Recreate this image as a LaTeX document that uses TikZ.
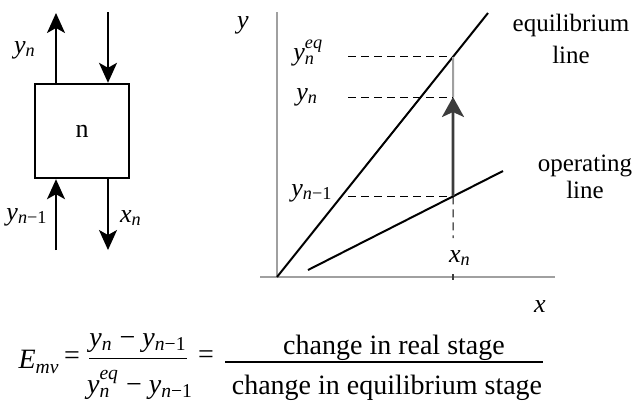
\documentclass[tikz,border=0pt]{standalone}
\usepackage{amsmath}
\usepackage{fontspec}
\setmainfont{Liberation Serif}
\usepackage{xcolor}
\definecolor{axgray}{RGB}{160,160,160}
\definecolor{arrgray}{RGB}{60,60,60}
\usetikzlibrary{arrows.meta, positioning, calc}
\newcommand{\vsub}[2]{\textit{#1}$_{\textit{#2}}$}
\newcommand{\yprev}{\textit{y}$_{\textit{n}\text{−1}}$}
\newcommand{\yeqn}{\textit{y}$_{\textit{n}}^{\textit{eq}}$}

\begin{document}
\begin{tikzpicture}[x=0.5pt, y=-0.5pt,
  flow/.style={draw, line width=0.9pt, -{Stealth[length=10pt, width=9pt, inset=2.5pt]}},
  var/.style={font=\fontsize{13}{15}\selectfont, inner sep=1pt},
  lbl/.style={font=\fontsize{12.5}{15}\selectfont, align=center},
  eqn/.style={font=\fontsize{14}{16}\selectfont, inner sep=0pt},
  guide/.style={dash pattern=on 4pt off 2.5pt, line width=0.5pt},
  axis/.style={axgray, line width=1pt}]
  \useasboundingbox (0,0) rectangle (637,404);

  % stage with its streams
  \node[draw, line width=1.2pt, minimum width=47pt, minimum height=47pt,
        font=\fontsize{13}{15}\selectfont] (stage) at (82,131) {n};
  \coordinate (ynout) at (56,13);
  \coordinate (xin) at (108,12);
  \coordinate (yin) at (56,250);
  \coordinate (xout) at (108,250);
  \draw[flow] (stage.north -| ynout) -- (ynout);
  \draw[flow] (xin) -- (stage.north -| xin);
  \draw[flow] (yin) -- (stage.south -| yin);
  \draw[flow] (stage.south -| xout) -- (xout);
  \node[var] (lyn) at (25,50) {\vsub{y}{n}};
  \node[var] (lyprev) at (27,217) {\yprev};
  \node[var] (lxn) at (131,218) {\vsub{x}{n}};

  % axes
  \coordinate (O) at (277,277);
  \coordinate (ytop) at (277,12);
  \coordinate (xleft) at (260,277);
  \coordinate (xright) at (555,277);
  \draw[axis] (ytop) -- (O);
  \draw[axis] (xleft) -- (xright);
  \node[var] (ylab) at (243,25) {\textit{y}};
  \node[var] (xlab) at (540,307) {\textit{x}};

  % equilibrium and operating lines
  \coordinate (eqend) at (488,13);
  \coordinate (opstart) at (308,270);
  \coordinate (opend) at (503,171);
  \draw[line width=1pt] (O) -- (eqend);
  \draw[line width=1pt] (opstart) -- (opend);
  \node[lbl] (eqlab) at (571,39) {equilibrium\\[1pt] line};
  \node[lbl] (oplab) at (585,177) {operating\\[-1.5pt] line};

  % one stage step
  \coordinate (vtop) at (453,0);
  \coordinate (vbot) at (453,277);
  \coordinate (eqpt) at (intersection of O--eqend and vtop--vbot);
  \coordinate (oppt) at (intersection of opstart--opend and vtop--vbot);
  \coordinate (ynpt) at (453,97);
  \coordinate (xdash) at (453,238);
  \coordinate (dl) at (348,0);
  \draw[axis] (eqpt) -- (ynpt);
  \draw[arrgray, line width=1.4pt, -{Stealth[length=10pt, width=11pt, inset=2.5pt]}] (oppt) -- (ynpt);
  \draw[guide] (oppt) -- (xdash);
  \draw[arrgray, line width=0.6pt] ([yshift=1.5pt]vbot) -- ([yshift=-1.5pt]vbot);
  \draw[guide] (eqpt -| dl) -- (eqpt);
  \draw[guide] (ynpt -| dl) -- (ynpt);
  \draw[guide] (oppt -| dl) -- (oppt);
  \node[var, anchor=west] (lyeq) at (291,53) {\yeqn};
  \node[var, anchor=west] (lyn2) at (294,97) {\vsub{y}{n}};
  \node[var, anchor=west] (lyprev2) at (289,193) {\yprev};
  \node[var] (lxn2) at (460,258) {\vsub{x}{n}};

  % Murphree efficiency
  \node[eqn] (emv) at (39,362) {\vsub{E}{mv}};
  \node[eqn] (eq1) at (72,358) {=};
  \node[eqn] (num1) at (138,343) {\vsub{y}{n} − \yprev};
  \node[eqn] (den1) at (140,385) {\yeqn\ − \yprev};
  \coordinate (bar1) at (0,358);
  \draw[line width=0.5pt] (bar1 -| num1.west) -- (bar1 -| num1.east);
  \node[eqn] (eq2) at (206,357) {=};
  \node[eqn] (num2) at (394,348) {change in real stage};
  \node[eqn] (den2) at (387,388) {change in equilibrium stage};
  \coordinate (bar2) at (0,362);
  \draw[line width=0.7pt] ([xshift=-3pt]bar2 -| den2.west) -- (bar2 -| den2.east);
\end{tikzpicture}
\end{document}
